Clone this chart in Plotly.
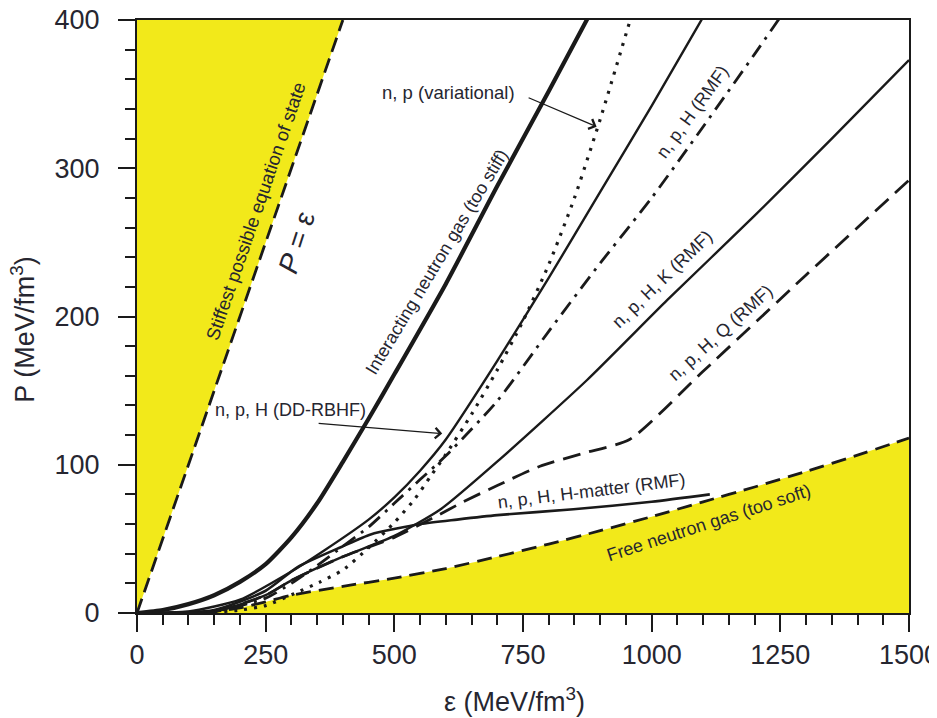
import plotly.graph_objects as go

# ---------------- data ----------------
stiff_x = [0, 400]
stiff_y = [0, 400]

free_x = [0, 100, 150, 200, 250, 300, 400, 500, 600, 700, 800, 900, 1000, 1100, 1200, 1300, 1400, 1500]
free_y = [0, 0.2, 1.0, 3.5, 7.5, 12.0, 18, 23.5, 30, 38, 46.5, 55.5, 65, 75, 85, 95.5, 106.5, 118]

int_x = [0, 50, 100, 150, 200, 250, 300, 350, 400, 450, 500, 600, 700, 800, 880]
int_y = [0, 2, 6, 12, 21, 33, 51, 74, 102, 131, 161, 222, 288, 352, 404]

dd_x = [0, 100, 200, 300, 363, 450, 500, 550, 600, 700, 800, 900, 1000, 1100]
dd_y = [0, 1, 9, 28, 42, 63, 78, 96, 117, 170, 226, 284, 342, 402]

var_x = [150, 200, 250, 305, 356, 400, 450, 500, 540, 570, 600, 650, 700, 750, 800, 850, 900, 960]
var_y = [0.5, 2, 5, 13, 21, 29, 44, 61, 77, 92, 107, 134, 164, 197, 235, 280, 333, 402]

rmf_x = [0, 150, 250, 300, 350, 400, 450, 500, 550, 600, 700, 800, 900, 1000, 1100, 1200, 1250]
rmf_y = [0, 1, 10, 20, 32, 45, 58, 74, 90, 106, 143, 190, 236, 280, 328, 377, 402]

k_x = [0, 150, 250, 300, 400, 500, 590, 706, 874, 1030, 1200, 1350, 1500]
k_y = [0, 1, 12, 22, 38, 52, 70, 104, 157, 211, 268, 320, 373]

q_x = [0, 150, 250, 300, 400, 500, 580, 634, 700, 783, 870, 957, 1100, 1300, 1500]
q_y = [0, 1, 12, 22, 38, 51, 65, 75, 86, 99, 108, 117, 163, 228, 292]

hm_x = [0, 150, 250, 312, 400, 454, 551, 622, 700, 848, 1000, 1113]
hm_y = [0, 2, 15, 31, 45, 53, 60, 63, 66, 70, 75, 80]

x_ticks = [0, 250, 500, 750, 1000, 1250, 1500]
y_ticks = [0, 100, 200, 300, 400]

# ---------------- styling ----------------
YELLOW = "rgb(242,233,26)"
INK = "#1a1a1a"
TXT = "#262630"
FONT = "Liberation Sans, Arial, Helvetica, sans-serif"

fig = go.Figure()

# yellow regions
fig.add_trace(go.Scatter(x=[stiff_x[0], stiff_x[1], 0], y=[stiff_y[0], stiff_y[1], stiff_y[1]],
                         fill="toself", fillcolor=YELLOW, mode="lines",
                         line=dict(width=0), hoverinfo="skip", showlegend=False))
fig.add_trace(go.Scatter(x=free_x, y=free_y, fill="tozeroy", fillcolor=YELLOW, mode="lines",
                         line=dict(width=0, shape="spline", smoothing=0.6),
                         hoverinfo="skip", showlegend=False))

def line(x, y, width, dash="solid"):
    fig.add_trace(go.Scatter(x=x, y=y, mode="lines", line=dict(color=INK, width=width, dash=dash,
                             shape="spline", smoothing=0.6),
                             hoverinfo="skip", showlegend=False))

line(hm_x, hm_y, 2.6)
line(k_x, k_y, 2.4)
line(q_x, q_y, 2.8, "18px,9px")
line(rmf_x, rmf_y, 2.8, "15px,7px,3px,7px")
line(var_x, var_y, 3.2, "3px,7px")
line(dd_x, dd_y, 2.4)
line(int_x, int_y, 4.2)
fig.add_trace(go.Scatter(x=free_x, y=free_y, mode="lines",
                         line=dict(color=INK, width=2.8, dash="15px,8px", shape="spline", smoothing=0.6),
                         hoverinfo="skip", showlegend=False))
fig.add_trace(go.Scatter(x=stiff_x, y=stiff_y, mode="lines",
                         line=dict(color=INK, width=2.8, dash="15px,7px"),
                         hoverinfo="skip", showlegend=False))

# ---------------- annotations ----------------
def label(text, x, y, angle=0, size=17):
    fig.add_annotation(x=x, y=y, xref="x", yref="y", text=text, showarrow=False,
                       textangle=angle, font=dict(family=FONT, size=size, color=TXT),
                       xanchor="center", yanchor="middle")

label("Stiffest possible equation of state", 230, 271, -71, 18.5)
label("<i>P</i> = ε", 310, 250, -72, 28)
label("Interacting neutron gas (too stiff)", 582, 237, -59, 18)
label("n, p (variational)", 605, 351, 0, 18.5)
label("n, p, H (RMF)", 1079, 338, -54, 18)
label("n, p, H, K (RMF)", 1021, 225, -44, 18)
label("n, p, H, Q (RMF)", 1133, 189, -42, 18)
label("n, p, H (DD-RBHF)", 298, 137, 0, 18)
label("n, p, H, H-matter (RMF)", 883, 82, -7, 18)
label("Free neutron gas (too soft)", 1110, 61, -18, 18)

def arrow(x_tip, y_tip, x_tail, y_tail):
    fig.add_annotation(x=x_tip, y=y_tip, ax=x_tail, ay=y_tail, xref="x", yref="y",
                       axref="x", ayref="y", text="", showarrow=True,
                       arrowhead=4, arrowsize=1.6, arrowwidth=1.3, arrowcolor=INK, standoff=0)

arrow(893, 328, 758, 348)
arrow(593, 121, 350, 128)

# axis titles
fig.add_annotation(x=0.489, y=-0.146, xref="paper", yref="paper",
                   text="ε (MeV/fm<sup>3</sup>)", showarrow=False,
                   font=dict(family=FONT, size=27, color=TXT), xanchor="center", yanchor="middle")
fig.add_annotation(x=-0.148, y=0.479, xref="paper", yref="paper",
                   text="P (MeV/fm<sup>3</sup>)", showarrow=False, textangle=-90,
                   font=dict(family=FONT, size=27, color=TXT), xanchor="center", yanchor="middle")

axis_common = dict(showgrid=False, zeroline=False, showline=True, linecolor=INK, linewidth=2,
                   mirror=True, ticks="outside", ticklen=17, tickwidth=2, tickcolor=INK,
                   automargin=False,
                   tickfont=dict(family=FONT, size=27, color=TXT))

fig.update_xaxes(range=[0, 1500], tickvals=x_ticks, ticktext=[str(v) for v in x_ticks],
                 ticklabeloverflow="allow",
                 minor=dict(dtick=50, tick0=0, ticks="outside", ticklen=10, tickwidth=2, tickcolor=INK),
                 **axis_common)
fig.update_yaxes(range=[0, 400], tickvals=y_ticks, ticktext=[str(v) for v in y_ticks],
                 ticklabeloverflow="allow",
                 minor=dict(dtick=20, tick0=0, ticks="outside", ticklen=10, tickwidth=2, tickcolor=INK),
                 ticklabelstandoff=13, **axis_common)

# the page places the figure 8px in from the window edge; margins compensate for that
fig.update_layout(width=937, height=718, margin=dict(l=129, r=36, t=12, b=113),
                  plot_bgcolor="white", paper_bgcolor="white", showlegend=False)

fig.write_html("out.html")
